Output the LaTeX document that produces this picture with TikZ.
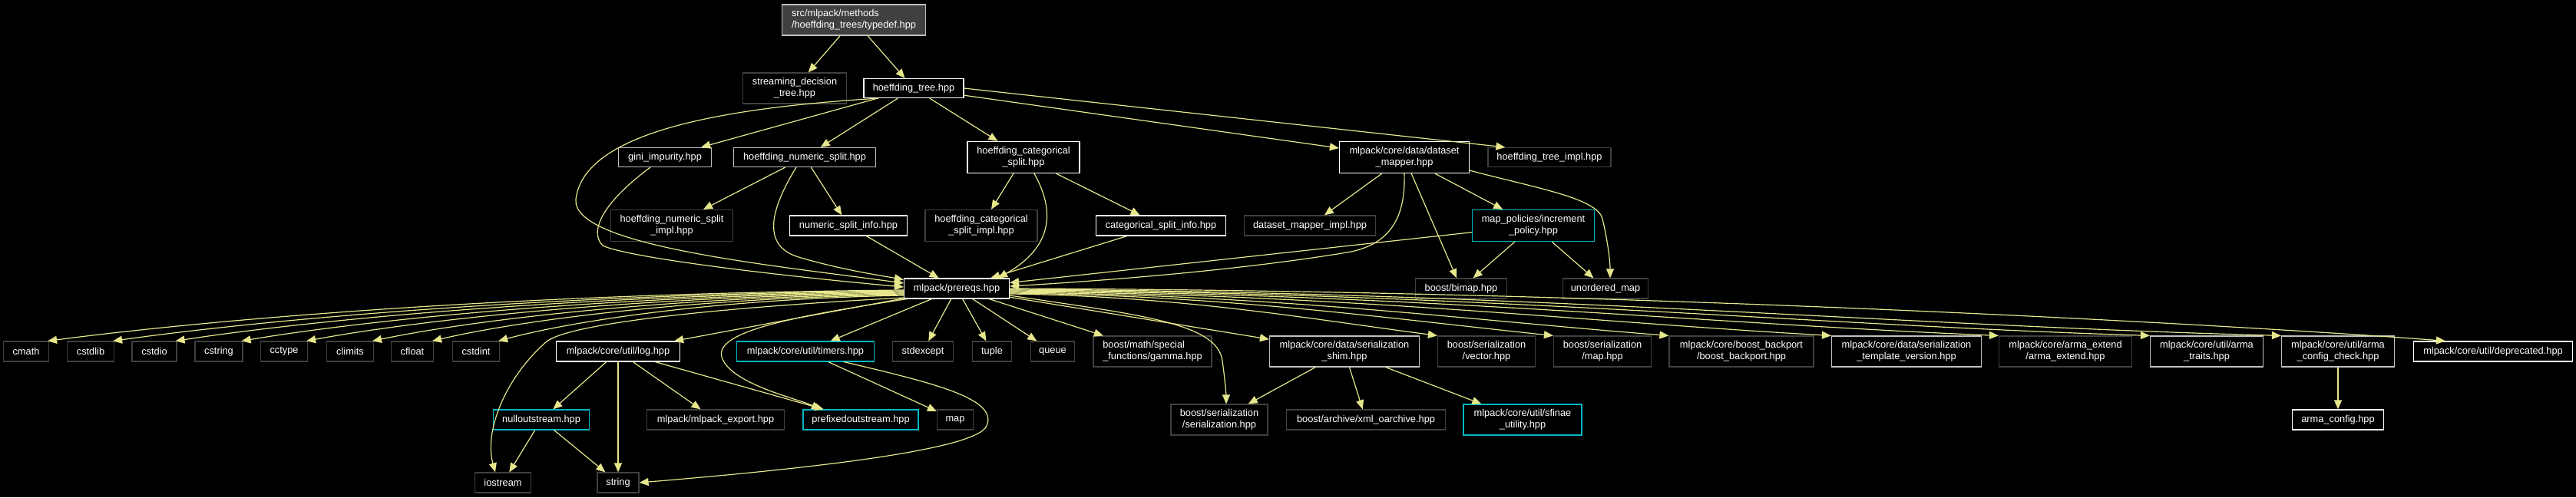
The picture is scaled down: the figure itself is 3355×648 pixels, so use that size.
\documentclass[tikz,border=0pt]{standalone}
\usepackage{fontspec}
\newfontfamily\dfont{Liberation Sans}
\usetikzlibrary{arrows.meta,calc}
\definecolor{edgec}{RGB}{230,230,140}
\definecolor{darkb}{RGB}{64,64,64}
\definecolor{lightb}{RGB}{191,191,191}
\definecolor{cyanb}{RGB}{0,184,196}
\definecolor{fillg}{RGB}{64,64,64}
\tikzset{
  nd/.style={draw, rectangle, inner sep=0pt, text=white, align=center,
    line width=0.6pt, font=\dfont\fontsize{6.4}{7.6}\selectfont},
  sz/.style 2 args={minimum width={(#1)*0.5pt}, minimum height={(#2)*0.5pt}},
  dk/.style={draw=darkb}, wt/.style={draw=white}, lg/.style={draw=lightb}, cy/.style={draw=cyanb},
  conn/.style={draw=edgec, line width=0.6pt, -{Triangle[length=6pt,width=5pt]}}
}
\begin{document}
\begin{tikzpicture}[x=0.5pt,y=-0.5pt]
\fill[black] (0,0) rectangle (3355,648);
\useasboundingbox (0,0) rectangle (3355,648);
% row 0-1
\node[nd,lg,fill=fillg,sz={187}{40},align=left] (typedef) at (1112,26) {src/mlpack/methods\\/hoeffding\_trees/typedef.hpp};
\node[nd,dk,sz={135}{40}] (sdt) at (1035,115) {streaming\_decision\\\_tree.hpp};
\node[nd,wt,sz={130}{25}] (ht) at (1190,115) {hoeffding\_tree.hpp};
% row 2
\node[nd,lg,sz={121}{25}] (gini) at (866,205) {gini\_impurity.hpp};
\node[nd,lg,sz={185}{25}] (hns) at (1048,205) {hoeffding\_numeric\_split.hpp};
\node[nd,wt,sz={146}{41}] (hcs) at (1333,205) {hoeffding\_categorical\\\_split.hpp};
\node[nd,wt,sz={169}{41}] (dm) at (1829,205) {mlpack/core/data/dataset\\\_mapper.hpp};
\node[nd,dk,sz={160}{25}] (hti) at (2018,205) {hoeffding\_tree\_impl.hpp};
% row 3
\node[nd,dk,sz={159}{41}] (hnsi) at (875,294) {hoeffding\_numeric\_split\\\_impl.hpp};
\node[nd,wt,sz={153}{26}] (nsi) at (1105,294) {numeric\_split\_info.hpp};
\node[nd,dk,sz={146}{41}] (hcsi) at (1278,294) {hoeffding\_categorical\\\_split\_impl.hpp};
\node[nd,wt,sz={169}{26}] (csi) at (1512,294) {categorical\_split\_info.hpp};
\node[nd,dk,sz={171}{26}] (dmi) at (1706,294) {dataset\_mapper\_impl.hpp};
\node[nd,cy,sz={159}{41}] (ip) at (1997,294) {map\_policies/increment\\\_policy.hpp};
% row 4
\node[nd,wt,sz={137}{26}] (prereqs) at (1246,376) {mlpack/prereqs.hpp};
\node[nd,dk,sz={119}{26}] (bimap) at (1903,376) {boost/bimap.hpp};
\node[nd,dk,sz={111}{26}] (umap) at (2091,376) {unordered\_map};
% row 5
\node[nd,dk,sz={59}{26}] (cmath) at (34,458) {cmath};
\node[nd,dk,sz={61}{26}] (cstdlib) at (118,458) {cstdlib};
\node[nd,dk,sz={58}{26}] (cstdio) at (201,458) {cstdio};
\node[nd,dk,sz={62}{26}] (cstring) at (285,458) {cstring};
\node[nd,dk,sz={61}{26}] (cctype) at (370,458) {cctype};
\node[nd,dk,sz={61}{26}] (climits) at (456,458) {climits};
\node[nd,dk,sz={55}{26}] (cfloat) at (537,458) {cfloat};
\node[nd,dk,sz={61}{26}] (cstdint) at (620,458) {cstdint};
\node[nd,wt,sz={161}{26}] (log) at (805,458) {mlpack/core/util/log.hpp};
\node[nd,cy,sz={179}{26}] (timers) at (1049,458) {mlpack/core/util/timers.hpp};
\node[nd,dk,sz={79}{26}] (stdexcept) at (1202,458) {stdexcept};
\node[nd,dk,sz={51}{26}] (tuple) at (1292,458) {tuple};
\node[nd,dk,sz={57}{26}] (queue) at (1371,458) {queue};
\node[nd,dk,sz={154}{40},align=left] (gamma) at (1501,458) {boost/math/special\\\_functions/gamma.hpp};
\node[nd,lg,sz={195}{40}] (shim) at (1751,458) {mlpack/core/data/serialization\\\_shim.hpp};
\node[nd,dk,sz={127}{40}] (vector) at (1936,458) {boost/serialization\\/vector.hpp};
\node[nd,dk,sz={127}{40}] (smap) at (2087,458) {boost/serialization\\/map.hpp};
\node[nd,dk,sz={188}{40}] (backport) at (2268,458) {mlpack/core/boost\_backport\\/boost\_backport.hpp};
\node[nd,lg,sz={195}{40}] (tver) at (2483,458) {mlpack/core/data/serialization\\\_template\_version.hpp};
\node[nd,dk,sz={173}{40}] (armaext) at (2690,458) {mlpack/core/arma\_extend\\/arma\_extend.hpp};
\node[nd,lg,sz={147}{40}] (armatraits) at (2874,458) {mlpack/core/util/arma\\\_traits.hpp};
\node[nd,lg,sz={147}{40}] (armacc) at (3045,458) {mlpack/core/util/arma\\\_config\_check.hpp};
\node[nd,wt,sz={207}{26}] (depr) at (3247,458) {mlpack/core/util/deprecated.hpp};
% row 6
\node[nd,cy,sz={125}{26}] (nullout) at (705,547) {nulloutstream.hpp};
\node[nd,dk,sz={179}{26}] (export) at (932,547) {mlpack/mlpack\_export.hpp};
\node[nd,cy,sz={150}{26}] (prefixed) at (1121,547) {prefixedoutstream.hpp};
\node[nd,dk,sz={47}{26}] (map) at (1244,547) {map};
\node[nd,dk,sz={126}{40}] (ser) at (1588,547) {boost/serialization\\/serialization.hpp};
\node[nd,dk,sz={207}{26}] (xml) at (1779,547) {boost/archive/xml\_oarchive.hpp};
\node[nd,cy,sz={154}{40}] (sfinae) at (1983,547) {mlpack/core/util/sfinae\\\_utility.hpp};
\node[nd,wt,sz={119}{26}] (armaconfig) at (3045,547) {arma\_config.hpp};
% row 7
\node[nd,dk,sz={73}{26}] (iostream) at (655,629) {iostream};
\node[nd,dk,sz={54}{26}] (string) at (805,629) {string};

% ---- edges ----
\draw[conn] (typedef) -- (sdt);
\draw[conn] (typedef) -- (ht);
\draw[conn] (ht) -- (gini);
\draw[conn] (ht) -- (hns);
\draw[conn] (ht) -- (hcs);
\draw[conn] (ht) -- (dm);
\draw[conn] (ht.east) -- ($(hti.north west)+(23,0)$);
\draw[conn] ($(ht.south west)+(20,0)$) .. controls (950,140) and (760,170) .. (750,260) .. controls (745,320) and (1000,345) .. ($(prereqs.west)+(0,-7)$);
\draw[conn] ($(gini.south)+(-19,0)$) .. controls (790,260) and (765,300) .. (785,320) .. controls (815,335) and (1000,358) .. ($(prereqs.west)+(0,-2)$);
\draw[conn] ($(hns.south)+(-11,0)$) .. controls (1005,270) and (990,320) .. (1040,335) .. controls (1090,350) and (1140,358) .. ($(prereqs.north west)+(0,2)$);
\draw[conn] ($(hcs.south)+(14,0)$) .. controls +(25,45) and +(75,-43) .. ($(prereqs.north east)+(-15,0)$);
\draw[conn] (hns) -- (hnsi);
\draw[conn] (hns) -- (nsi);
\draw[conn] (hcs) -- (hcsi);
\draw[conn] (hcs) -- (csi);
\draw[conn] (nsi) -- (prereqs);
\draw[conn] (csi) -- (prereqs);
\draw[conn] (dm) -- (dmi);
\draw[conn] (dm) -- (ip);
\draw[conn] (dm) -- (bimap);
\draw[conn] (dm.south) .. controls (1831,290) and (1805,318) .. (1760,328) .. controls (1600,355) and (1400,368) .. ($(prereqs.east)+(0,-3)$);
\draw[conn] ($(dm.south east)+(0,-4)$) .. controls (2000,245) and (2080,258) .. (2087,285) .. controls (2094,315) and (2097,340) .. ($(umap.north)+(6,0)$);
\draw[conn] (ip) -- (bimap);
\draw[conn] (ip) -- (umap);
\draw[conn] (ip) -- (prereqs);
% prereqs to the left
\draw[conn] ($(prereqs.west)+(0,2)$) .. controls +(-558,5) and +(167,-22) .. ($(cmath.north east)+(-2,0)$);
\draw[conn] ($(prereqs.west)+(0,3)$) .. controls +(-515,5) and +(155,-22) .. ($(cstdlib.north east)+(-2,0)$);
\draw[conn] ($(prereqs.west)+(0,4)$) .. controls +(-475,5) and +(142,-22) .. ($(cstdio.north east)+(-2,0)$);
\draw[conn] ($(prereqs.west)+(0,5)$) .. controls +(-432,5) and +(130,-22) .. ($(cstring.north east)+(-2,0)$);
\draw[conn] ($(prereqs.west)+(0,6)$) .. controls +(-390,5) and +(117,-22) .. ($(cctype.north east)+(-2,0)$);
\draw[conn] ($(prereqs.west)+(0,7)$) .. controls +(-347,5) and +(104,-22) .. ($(climits.north east)+(-2,0)$);
\draw[conn] ($(prereqs.west)+(0,8)$) .. controls +(-307,5) and +(92,-22) .. ($(cfloat.north east)+(-2,0)$);
\draw[conn] ($(prereqs.west)+(0,9)$) .. controls +(-265,5) and +(80,-22) .. ($(cstdint.north east)+(-2,0)$);
\draw[conn] (prereqs) -- (log);
\draw[conn] ($(prereqs.west)+(0,12)$) .. controls (950,400) and (745,420) .. (712,445) .. controls (660,490) and (630,560) .. ($(iostream.north)+(-10,0)$);
\draw[conn] ($(prereqs.south west)+(4,0)$) .. controls (1050,410) and (930,430) .. (940,465) .. controls (950,500) and (1040,520) .. ($(prefixed.north)+(-52,0)$);
\draw[conn] (prereqs) -- (timers);
\draw[conn] (prereqs) -- (stdexcept);
\draw[conn] (prereqs) -- (tuple);
\draw[conn] (prereqs) -- (queue);
\draw[conn] (prereqs) -- (gamma);
\draw[conn] (prereqs) -- (shim);
\draw[conn] ($(prereqs.east)+(0,9)$) .. controls (1480,410) and (1585,420) .. (1592,470) .. controls (1596,500) and (1597,515) .. ($(ser.north)+(9,0)$);
% prereqs to the right
\draw[conn] ($(prereqs.east)+(0,7)$) .. controls +(223,3) and +(-167,-22) .. (vector.north west);
\draw[conn] ($(prereqs.east)+(0,6)$) .. controls +(283,3) and +(-212,-22) .. (smap.north west);
\draw[conn] ($(prereqs.east)+(0,5)$) .. controls +(344,3) and +(-258,-20) .. (backport.north west);
\draw[conn] ($(prereqs.east)+(0,4)$) .. controls +(428,3) and +(-321,-18) .. (tver.north west);
\draw[conn] ($(prereqs.east)+(0,3)$) .. controls +(516,3) and +(-387,-16) .. (armaext.north west);
\draw[conn] ($(prereqs.east)+(0,2)$) .. controls +(594,3) and +(-446,-14) .. (armatraits.north west);
\draw[conn] ($(prereqs.east)+(0,1)$) .. controls +(663,3) and +(-497,-13) .. (armacc.north west);
\draw[conn] ($(prereqs.east)+(0,0)$) .. controls +(900,3) and +(-150,-12) .. ($(depr.north west)+(42,0)$);
% lower level
\draw[conn] (log) -- (nullout);
\draw[conn] (log) -- (string);
\draw[conn] (log) -- (export);
\draw[conn] (log) -- (prefixed);
\draw[conn] (nullout) -- (iostream);
\draw[conn] (nullout) -- (string);
\draw[conn] (timers) -- (map);
\draw[conn] ($(timers.south)+(50,0)$) .. controls (1220,500) and (1300,520) .. (1285,555) .. controls (1270,590) and (1000,615) .. (string.east);
\draw[conn] (shim) -- (ser);
\draw[conn] (shim) -- (xml);
\draw[conn] (shim) -- (sfinae);
\draw[conn] (armacc) -- (armaconfig);
\end{tikzpicture}
\end{document}
